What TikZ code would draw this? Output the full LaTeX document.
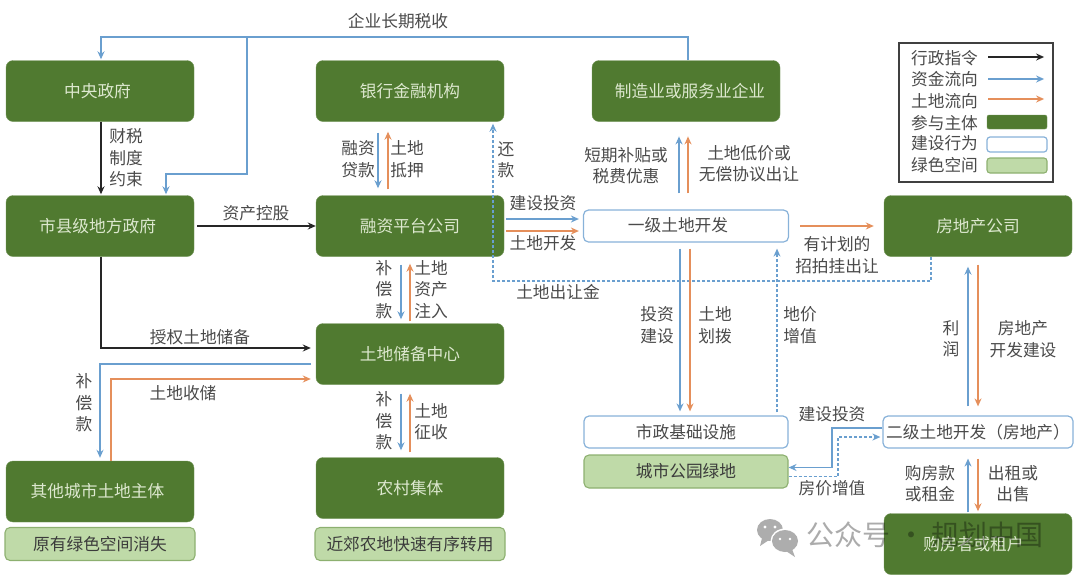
\documentclass[tikz,border=0pt]{standalone}
\usepackage{fontspec}
\setmainfont{Noto Sans CJK SC}
\usetikzlibrary{arrows.meta}
\definecolor{dkgreen}{HTML}{507A30}
\definecolor{ltgreen}{HTML}{BFDAA8}
\definecolor{edgegreen}{HTML}{8DB070}
\definecolor{flowblue}{HTML}{6A9FCF}
\definecolor{floworange}{HTML}{E58F5B}
\definecolor{inktext}{HTML}{4A4A4A}
\definecolor{paletext}{HTML}{DDE8CF}
\tikzset{
  entity/.style={fill=dkgreen,draw=dkgreen!80!white,rounded corners=7pt,minimum width=188pt,minimum height=61pt,text=paletext,inner sep=0pt},
  build/.style={fill=white,draw=flowblue!80!white,line width=1.2pt,rounded corners=5pt,minimum height=32pt,text=inktext,inner sep=0pt},
  greenspace/.style={fill=ltgreen,draw=edgegreen,line width=1.1pt,rounded corners=5pt,minimum height=33pt,text=inktext!80!black,inner sep=0pt},
  tag/.style={text=inktext,align=center,inner sep=0pt,font=\fontsize{16.7}{21.5}\selectfont},
  admin/.style={draw=black!85,line width=1.4pt,-{Stealth[length=8pt,width=7pt]}},
  money/.style={draw=flowblue,line width=1.5pt,-{Stealth[length=8pt,width=7pt]}},
  moneyline/.style={draw=flowblue,line width=1.5pt},
  moneydash/.style={draw=flowblue,line width=1.3pt,dash pattern=on 3pt off 2pt,-{Stealth[length=8pt,width=7pt]}},
  land/.style={draw=floworange,line width=1.5pt,-{Stealth[length=8pt,width=7pt]}},
}
\begin{document}
\begin{tikzpicture}[x=1pt,y=-1pt,font=\fontsize{16.7}{21.5}\selectfont]
\useasboundingbox (0,0) rectangle (1080,579);
% green boxes
\node[entity] (zhongyang) at (100,91) {\hspace*{-5pt}中央政府};
\node[entity] (shixian) at (100,226) {\hspace*{-5pt}市县级地方政府};
\node[entity] (yinhang) at (410,91) {银行金融机构};
\node[entity] (rongzi) at (410,226) {融资平台公司};
\node[entity] (chubei) at (410,354) {土地储备中心};
\node[entity] (nongcun) at (410,488) {农村集体};
\node[entity] (qita) at (100,491.5) {\hspace*{-5pt}其他城市土地主体};
\node[entity] (zhizao) at (686,91) {\hspace*{8pt}制造业或服务业企业};
\node[entity] (fangchan) at (978,226) {房地产公司};
\node[entity] (goufang) at (978,544) {\hspace*{-9pt}购房者或租户};
% white boxes
\node[build,minimum width=205pt] (yiji) at (686,226) {\hspace*{-16pt}\raisebox{3pt}{一级土地开发}};
\node[build,minimum width=204pt] (shizheng) at (686,432) {市政基础设施};
\node[build,minimum width=190pt] (erji) at (978,432) {二级土地开发（房地产）};
% light green boxes
\node[greenspace,minimum width=190pt] (yuanyou) at (100,544) {\raisebox{2pt}{原有绿色空间消失}};
\node[greenspace,minimum width=190pt] (jinjiao) at (410,544) {\raisebox{2pt}{近郊农地快速有序转用}};
\node[greenspace,minimum width=204pt] (gongyuan) at (686,471.5) {城市公园绿地};
% tax line
\coordinate (taxtop) at (688,37);
\coordinate (taxfork) at (247,37);
\draw[moneyline] ([xshift=2pt]zhizao.north) |- (taxtop) -- (taxfork);
\draw[money] (taxfork) -| ([shift={(1,-1)}]zhongyang.north);
\draw[money] (taxfork) |- (166,174) -- ([shift={(66,-1)}]shixian.north);
\node[tag] (taxtag) at (398,21) {企业长期税收};
% left column
\draw[admin] ([xshift=1pt]zhongyang.south) -- ([shift={(1,-1)}]shixian.north);
\node[tag] (fiscal) at (126,158) {财税\\制度\\约束};
\draw[admin] ([xshift=3pt]shixian.east) -- (rongzi.west);
\node[tag] (holding) at (256,213) {资产控股};
\draw[admin] ([xshift=1pt]shixian.south) |- ([shift={(-5,-6)}]chubei.west);
\node[tag] (grant) at (200,337) {授权土地储备};
\draw[money] ([shift={(-5,10)}]chubei.west) -| ([shift={(0,-3)}]qita.north);
\node[tag] (comp1) at (84,403) {补\\偿\\款};
\draw[land] ([xshift=11pt]qita.north) |- ([shift={(-5,25)}]chubei.west);
\node[tag] (acquire) at (183,393) {土地收储};
% middle column
\draw[money] ([shift={(-32,11)}]yinhang.south) -- ([shift={(-32,-7)}]rongzi.north);
\draw[land] ([shift={(-22,-6)}]rongzi.north) -- ([shift={(-22,10)}]yinhang.south);
\node[tag] (loan) at (358,159) {融资\\贷款};
\node[tag] (pledge) at (407,159) {土地\\抵押};
\draw[money] ([shift={(-9,8)}]rongzi.south) -- ([shift={(-9,-4)}]chubei.north);
\draw[land] ([shift={(0,-2)}]chubei.north) -- ([shift={(0,7)}]rongzi.south);
\node[tag] (comp2) at (384,289.5) {补\\偿\\款};
\node[tag] (inject) at (431,289.5) {土地\\资产\\注入};
\draw[money] ([shift={(-9,9)}]chubei.south) -- ([shift={(-9,-7)}]nongcun.north);
\draw[land] ([shift={(0,-5)}]nongcun.north) -- ([shift={(0,9)}]chubei.south);
\node[tag] (comp3) at (384,421) {补\\偿\\款};
\node[tag] (expro) at (431,421.5) {土地\\征收};
% dashed land fee line
\draw[moneydash] ([xshift=-47pt]fangchan.south) |- (493,281) -- ([shift={(83,2)}]yinhang.south);
\node[tag] (repay) at (506,160) {还\\款};
\node[tag] (fee) at (558,292) {土地出让金};
\draw[money] ([shift={(2,-7)}]rongzi.east) -- ([shift={(-4,-7)}]yiji.west);
\draw[land] ([shift={(2,5)}]rongzi.east) -- ([shift={(-4,5)}]yiji.west);
\node[tag] (invest1) at (543,203) {建设投资};
\node[tag] (devland) at (543,243) {土地开发};
% centre column
\draw[money] ([shift={(-7,-16)}]yiji.north) -- ++(0,-57);
\draw[land] ([shift={(2,-16)}]yiji.north) -- ++(0,-57);
\node[tag] (subsidy) at (626,165.5) {短期补贴或\\税费优惠};
\node[tag] (lowprice) at (749,163.5) {土地低价或\\无偿协议出让};
\draw[land] ([xshift=11pt]yiji.east) -- ([xshift=-10pt]fangchan.west);
\node[tag] (auction) at (837,255) {有计划的\\招拍挂出让};
\draw[money] ([shift={(-6,6)}]yiji.south) -- ([shift={(-6,-4)}]shizheng.north);
\draw[land] ([shift={(4,6)}]yiji.south) -- ([shift={(4,-4)}]shizheng.north);
\node[tag] (build1) at (657,325) {投资\\建设};
\node[tag] (allot) at (715,325) {土地\\划拨};
\draw[moneydash] ([shift={(91,-3)}]shizheng.north) -- ([shift={(91,6)}]yiji.south);
\node[tag] (rise1) at (800,325) {地价\\增值};
% right column
\draw[money] ([shift={(-10,-9)}]erji.north) -- ([shift={(-10,10)}]fangchan.south);
\draw[land] ([shift={(0,8)}]fangchan.south) -- ([shift={(0,-9)}]erji.north);
\node[tag] (profit) at (951,338.5) {利\\润};
\node[tag] (devbuild) at (1023,339) {房地产\\开发建设};
\draw[money] ([shift={(-10,-1)}]goufang.north) -- ([shift={(-10,10)}]erji.south);
\draw[land] ([shift={(0,10)}]erji.south) -- ([shift={(0,-2)}]goufang.north);
\node[tag] (payment) at (930,483.5) {购房款\\或租金};
\node[tag] (rent) at (1013,483.5) {出租或\\出售};
% links beside the park box
\coordinate (linkup) at (832,428);
\coordinate (linkdown) at (832,467.5);
\draw[money] ([yshift=4pt]erji.west) -- (linkup) -- (linkdown) -- ([yshift=4pt]gongyuan.east);
\coordinate (dashlow) at (838,476.5);
\coordinate (dashup) at (838,437);
\draw[moneydash] ([yshift=-5pt]gongyuan.east) -- (dashlow) -- (dashup) -- ([shift={(-2,5)}]erji.west);
\node[tag] (invest2) at (832,414) {建设投资};
\node[tag] (rise2) at (832,488) {房价增值};
% legend
\node[draw=black!75,line width=1.2pt,minimum width=154pt,minimum height=139pt,inner sep=0pt] (legend) at (976,112.5) {};
\node[tag] (lgadmin) at (944.5,58) {行政指令};
\node[tag] (lgmoney) at (944.5,79) {资金流向};
\node[tag] (lgland) at (944.5,101) {土地流向};
\node[tag] (lgentity) at (944.5,123) {参与主体};
\node[tag] (lgbuild) at (944.5,143) {建设行为};
\node[tag] (lggreen) at (944.5,165) {绿色空间};
\draw[admin] ([shift={(10,-1)}]lgadmin.east) -- ++(56,0);
\draw[money] ([xshift=10pt]lgmoney.east) -- ++(56,0);
\draw[land] ([shift={(10,-2)}]lgland.east) -- ++(56,0);
\node[entity,minimum width=60pt,minimum height=14pt,rounded corners=2pt] (keyentity) at (1017,122) {};
\node[build,minimum width=60pt,minimum height=15pt,rounded corners=3pt] (keybuild) at (1017,144.5) {};
\node[greenspace,minimum width=60pt,minimum height=15pt,rounded corners=3pt] (keygreen) at (1017,165.5) {};
% watermark
\fill[black!32] (770,530) ellipse (13pt and 11pt);
\fill[black!32] (762,538) -- (760,546) -- (769,540) -- cycle;
\fill[white] (785,541) ellipse (14.5pt and 12.5pt);
\fill[black!32] (785,541) ellipse (13pt and 11pt);
\fill[black!32] (792,549) -- (795,557) -- (786,551) -- cycle;
\fill[white] (765,527) circle (1.6pt) (775,527) circle (1.6pt) (780,539) circle (1.4pt) (790,539) circle (1.4pt);
\node[text=black,text opacity=.33,inner sep=0pt,font=\fontsize{28}{30}\selectfont] (mark) at (925,535) {公众号 · 规划中国};
\end{tikzpicture}
\end{document}
